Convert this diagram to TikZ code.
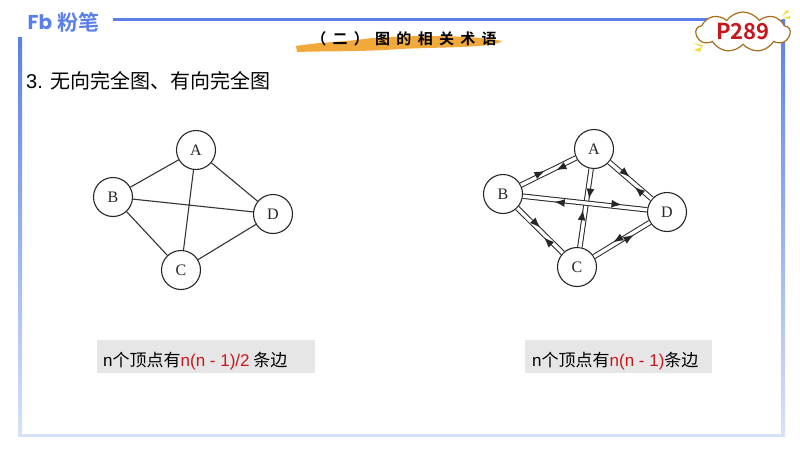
\documentclass[tikz,border=0pt]{standalone}
\usepackage{fontspec}
\usepackage{xcolor}
\usetikzlibrary{arrows.meta, decorations.markings, shapes.symbols}
\setmainfont{Liberation Sans}
\newfontfamily\cjk{Noto Sans CJK SC}
\newfontfamily\titlefont[LetterSpace=42]{Noto Sans CJK SC Bold}
\newfontfamily\logocjk{Noto Sans CJK SC Bold}
\newfontfamily\logofont{Poppins Bold}
\newfontfamily\letterfont{Liberation Serif}
\definecolor{frameblue}{HTML}{5B7FE8}
\definecolor{framepale}{HTML}{D6E2FA}
\definecolor{brush}{HTML}{F2A93B}
\definecolor{cloudline}{HTML}{A86E1C}
\definecolor{pagered}{HTML}{C8161D}
\definecolor{boxgrey}{HTML}{E6E6E6}
\definecolor{spark}{HTML}{F0DC3C}
\tikzstyle{vertex}=[circle, draw, line width=1.1pt, black!85, text=black!85, inner sep=0pt, minimum size=39pt, fill=white, font=\letterfont\fontsize{16}{16}\selectfont]
\tikzstyle{edge}=[line width=1.1pt, black!80]
\tikzstyle{twoway}=[double, double distance=3.4pt, line width=1pt, black!85]
\tikzstyle{sumbox}=[fill=boxgrey, minimum height=33pt, anchor=west, inner sep=0pt]
\tikzset{tips/.style n args={3}{postaction={decorate}, decoration={markings,
	mark=at position #1 with {\begin{scope}[yshift=#3*2.2pt]\arrow{Latex[length=11pt,width=8pt]}\end{scope}},
	mark=at position #2 with {\begin{scope}[yshift=-#3*2.2pt]\arrowreversed{Latex[length=11pt,width=8pt]}\end{scope}}}}}
\newcommand{\vertex}{\node[vertex]}
\newcommand{\red}[1]{\textcolor{pagered}{#1}}

\begin{document}
\begin{tikzpicture}[x=1pt, y=-1pt, font=\cjk]
\useasboundingbox (0,0) rectangle (800,450);
% frame
\shade[top color=frameblue, bottom color=framepale] (18,37) rectangle (22,436);
\shade[top color=frameblue, bottom color=framepale] (781.5,19) rectangle (785,436);
\fill[framepale] (18,433.5) rectangle (785,437);
\fill[frameblue] (113,17.5) rectangle (720,20.5);
% logo
\node[text=frameblue, font=\logofont\fontsize{20}{20}\selectfont, inner sep=0pt] (fb) at (40,22) {Fb};
\node[text=frameblue, font=\logocjk\fontsize{21}{21}\selectfont, inner sep=0pt, right=0pt] (logo) at (57,22) {粉笔};
% title
\fill[brush] (296,46) .. controls (320,42) and (345,42) .. (372,38) .. controls (420,35) and (470,35) .. (502,41)
	.. controls (495,48) and (440,47) .. (400,49) .. controls (360,52) and (320,51) .. (297,52) -- cycle;
\node[inner sep=0pt, font=\titlefont\fontsize{15}{15}\selectfont] (title) at (404,39) {（二）图的相关术语};
% page tag
\node[cloud, cloud puffs=9, cloud puff arc=110, aspect=2.6, draw=cloudline, fill=white, line width=1.2pt, minimum width=94pt, minimum height=40pt, inner sep=0pt] (tag) at (743,32) {};
\node[text=pagered, font=\logocjk\fontsize{22}{22}\selectfont, inner sep=0pt] (page) at (743,32) {P289};
\fill[spark] (693,43) -- (703,45) -- (702,47) -- cycle (694,50) -- (702,47) -- (700,52) -- cycle;
\fill[spark] (782,16) -- (787,10) -- (789,12) -- cycle (783,18) -- (790,16) -- (790,19) -- cycle;
% heading
\node[inner sep=0pt, right=0pt, font=\fontsize{20}{20}\selectfont] (head) at (26,81) {3. \cjk 无向完全图、有向完全图};
% left graph
\foreach \name/\x/\y in {A/196/150, B/113/197, C/181/270, D/273/214}{
	\vertex (\name) at (\x,\y) {\name};
	}
\draw[edge] (A)--(B) (A)--(C) (A)--(D) (B)--(C) (B)--(D) (C)--(D);
% right graph
\foreach \name/\x/\y in {A/594/149, B/503/194, C/577/267, D/667/212}{
	\vertex (\name2) at (\x,\y) {\name};
	}
\draw[twoway, tips={0.46}{0.61}{1}] (B2)--(A2);
\draw[twoway, tips={0.46}{0.62}{1}] (A2)--(D2);
\draw[twoway, tips={0.39}{0.52}{1}] (A2)--(C2);
\draw[twoway, tips={0.48}{0.61}{1}] (B2)--(C2);
\draw[twoway, tips={0.80}{0.25}{1}] (B2)--(D2);
\draw[twoway, tips={0.70}{0.35}{-1}] (C2)--(D2);
% captions
\node[sumbox, minimum width=218pt] (leftbox) at (97,356.5) {};
\node[inner sep=0pt, right=0pt, font=\fontsize{17}{17}\selectfont] (lefttext) at (103,361) {n\cjk 个顶点有\red{\rmfamily n(n - 1)/2} 条边};
\node[sumbox, minimum width=187pt] (rightbox) at (525,356.5) {};
\node[inner sep=0pt, right=0pt, font=\fontsize{17}{17}\selectfont] (righttext) at (532,361) {n\cjk 个顶点有\red{\rmfamily n(n - 1)}条边};
\end{tikzpicture}
\end{document}
